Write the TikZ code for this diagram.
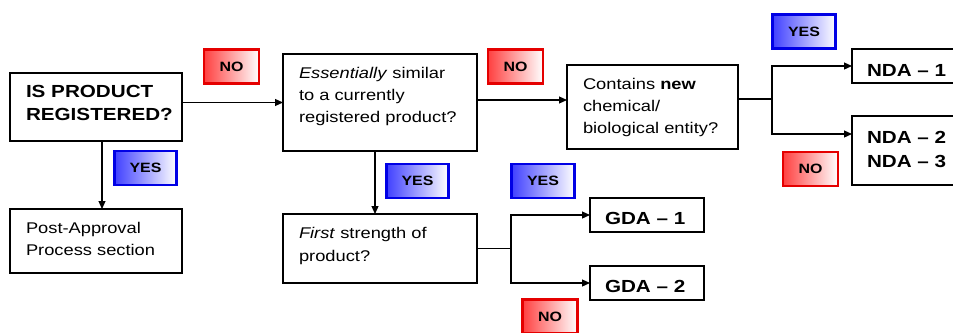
\documentclass[tikz,border=0pt]{standalone}
\usepackage{fontspec}
\setmainfont[FakeStretch=1.18]{Liberation Sans}
\usetikzlibrary{arrows.meta}
\newcommand\txtlines[1]{\begin{tabular}[t]{@{}l@{}}#1\end{tabular}}
\tikzset{
  box/.style={draw=black, line width=1.3pt, rectangle, inner sep=0pt, outer sep=0pt},
  arr/.style={line width=1.2pt, -{Triangle[length=8pt,width=7pt]}},
  link/.style={line width=1.2pt},
  txt/.style={inner sep=0pt, outer sep=0pt, anchor=base west},
  reg/.style={font=\fontsize{15.5}{22}\selectfont},
  big/.style={font=\fontsize{17.5}{23}\selectfont\bfseries},
  tag/.style={rectangle, line width=2.5pt, minimum width=55pt, minimum height=34pt, inner sep=0pt,
              font=\fontsize{13.5}{16}\selectfont\bfseries},
  notag/.style={tag, draw=red!90!black, left color=red!75, right color=white},
  yestag/.style={tag, draw=blue!90!black, left color=blue!75, right color=white},
}
\begin{document}
\begin{tikzpicture}[x=1pt, y=-1pt]
\useasboundingbox (0,0) rectangle (953,332);
\clip (0,0) rectangle (953,332);
\fill[white] (0,0) rectangle (953,332);

% boxes
\node[box, minimum width=172pt, minimum height=68pt] (b1) at (96,107) {};
\node[box, minimum width=194pt, minimum height=97pt] (b2) at (380,102.5) {};
\node[box, minimum width=171pt, minimum height=84pt] (b3) at (652.5,107) {};
\node[box, minimum width=172pt, minimum height=64pt] (b4) at (96,241) {};
\node[box, minimum width=194pt, minimum height=69pt] (b5) at (380,248.5) {};
\node[box, minimum width=110pt, minimum height=34pt] (nda1) at (907,66) {};
\node[box, minimum width=110pt, minimum height=69pt] (nda2) at (907,150.5) {};
\node[box, minimum width=114pt, minimum height=34pt] (gda1) at (647,215) {};
\node[box, minimum width=114pt, minimum height=34pt] (gda2) at (647,283) {};

% box texts
\node[txt, big] (t1) at (26,97) {\txtlines{IS PRODUCT\\REGISTERED?}};
\node[txt, reg] (t2) at (299,78) {\txtlines{\textit{Essentially} similar\\to a currently\\registered product?}};
\node[txt, reg] (t3) at (583,89) {\txtlines{Contains \textbf{new}\\chemical/\\biological entity?}};
\node[txt, reg] (t4) at (26,233) {\txtlines{Post-Approval\\Process section}};
\node[txt, reg, font=\fontsize{15.5}{23}\selectfont] (t5) at (299,238) {\txtlines{\textit{First} strength of\\product?}};
\node[txt, big] (tn1) at (867,76) {NDA – 1};
\node[txt, big, font=\fontsize{17.5}{24}\selectfont\bfseries] (tn2) at (867,143) {\txtlines{NDA – 2\\NDA – 3}};
\node[txt, big] (tg1) at (605,224) {GDA – 1};
\node[txt, big] (tg2) at (605,292) {GDA – 2};

% connectors
\coordinate (p23) at ([yshift=2.5pt]b2.east);
\coordinate (s3) at (772,99);
\coordinate (n2in) at ([yshift=16.5pt]nda2.west);
\coordinate (s5) at (511,248.5);

\draw[arr] (b1.east |- b2.west) -- (b2.west);
\draw[arr] ([xshift=6pt]b1.south) -- ([xshift=6pt]b4.north);
\draw[arr] ([xshift=-5pt]b2.south) -- ([xshift=-5pt]b5.north);
\draw[arr] (p23) -- (p23 -| b3.west);
\draw[link] (b3.east |- s3) -- (s3);
\draw[arr] (s3) |- (nda1.west);
\draw[arr] (s3) |- (n2in);
\draw[link] (b5.east) -- (s5);
\draw[arr] (s5) |- (gda1.west);
\draw[arr] (s5) |- (gda2.west);

% yes / no tags
\node[notag] (no1) at (231.5,66.5) {NO};
\node[notag] (no2) at (515.5,66.5) {NO};
\node[yestag, minimum width=62pt] (yes1) at (145.5,168) {YES};
\node[yestag, minimum width=62pt] (yes2) at (417.5,181) {YES};
\node[yestag, minimum width=63pt] (yes3) at (543,181) {YES};
\node[yestag, minimum width=63pt] (yes4) at (804,31.5) {YES};
\node[notag] (no3) at (810.5,169) {NO};
\node[notag] (no4) at (550,316.5) {NO};
\end{tikzpicture}
\end{document}
